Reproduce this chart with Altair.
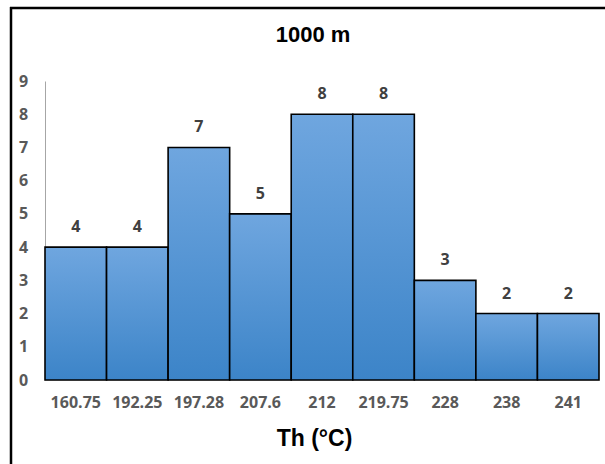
import altair as alt
import pandas as pd

# Data
categories = ["160.75", "192.25", "197.28", "207.6", "212", "219.75", "228", "238", "241"]
counts = [4, 4, 7, 5, 8, 8, 3, 2, 2]
y_ticks = [0, 1, 2, 3, 4, 5, 6, 7, 8, 9]

df = pd.DataFrame({"Th": categories, "n": counts})

FONT = "Open Sans"
LABEL_COLOR = "#595959"

x_enc = alt.X(
    "Th:N",
    sort=categories,
    scale=alt.Scale(paddingInner=0, paddingOuter=0),
    axis=alt.Axis(
        title="Th (°C)",
        labelAngle=0,
        labelFont=FONT,
        labelFontSize=16,
        labelFontWeight="bold",
        labelColor=LABEL_COLOR,
        labelPadding=14,
        labelOverlap=False,
        ticks=False,
        domainColor="#d9d9d9",
        domainWidth=1,
        titleFont="Liberation Sans",
        titleFontSize=23,
        titleFontWeight="bold",
        titleColor="#000000",
        titleBaseline="alphabetic",
        titleAnchor="start",
        titleAlign="center",
        titleX=269,
        titleY=65,
    ),
)

y_enc = alt.Y(
    "n:Q",
    scale=alt.Scale(domain=[0, 9], nice=False),
    axis=alt.Axis(
        title=None,
        values=y_ticks,
        tickCount=10,
        grid=False,
        ticks=False,
        labelOverlap=False,
        labelFont=FONT,
        labelFontSize=16,
        labelFontWeight="bold",
        labelColor=LABEL_COLOR,
        labelPadding=22,
        labelAlign="center",
        domainColor="#a6a6a6",
        domainWidth=1,
    ),
)

gradient = alt.Gradient(
    gradient="linear",
    stops=[
        alt.GradientStop(color="#6fa6df", offset=0),
        alt.GradientStop(color="#3c84c8", offset=1),
    ],
    x1=0, x2=0, y1=0, y2=1,
)

base = alt.Chart(df).encode(x=x_enc, y=y_enc)

bars = base.mark_bar(fill=gradient, stroke="#000000", strokeWidth=1.6)

labels = base.mark_text(
    dy=-20, font=FONT, fontSize=16, fontWeight="bold", color="#404040"
).encode(text="n:Q")

frame_df = pd.DataFrame({"k": [0]})
frame_top = alt.Chart(frame_df).mark_rule(color="#000000", strokeWidth=2.5).encode(
    x=alt.value(-35), x2=alt.value(700), y=alt.value(-73)
)
frame_left = alt.Chart(frame_df).mark_rule(color="#000000", strokeWidth=2.5).encode(
    x=alt.value(-34), y=alt.value(-74), y2=alt.value(500)
)

chart = alt.layer(bars, labels, frame_top, frame_left).properties(
    width=554,
    height=299,
    title=alt.Title(
        "1000 m",
        font="Liberation Sans",
        fontSize=22,
        fontWeight="bold",
        color="#000000",
        anchor="middle",
        frame="group",
        baseline="alphabetic",
        dx=-9,
        offset=-58,
    ),
    autosize=alt.AutoSizeParams(type="none"),
    padding={"left": 45, "top": 81, "right": 6, "bottom": 84},
).configure_view(stroke=None)

chart.save("out.html", embed_options={"renderer": "svg", "actions": False})
